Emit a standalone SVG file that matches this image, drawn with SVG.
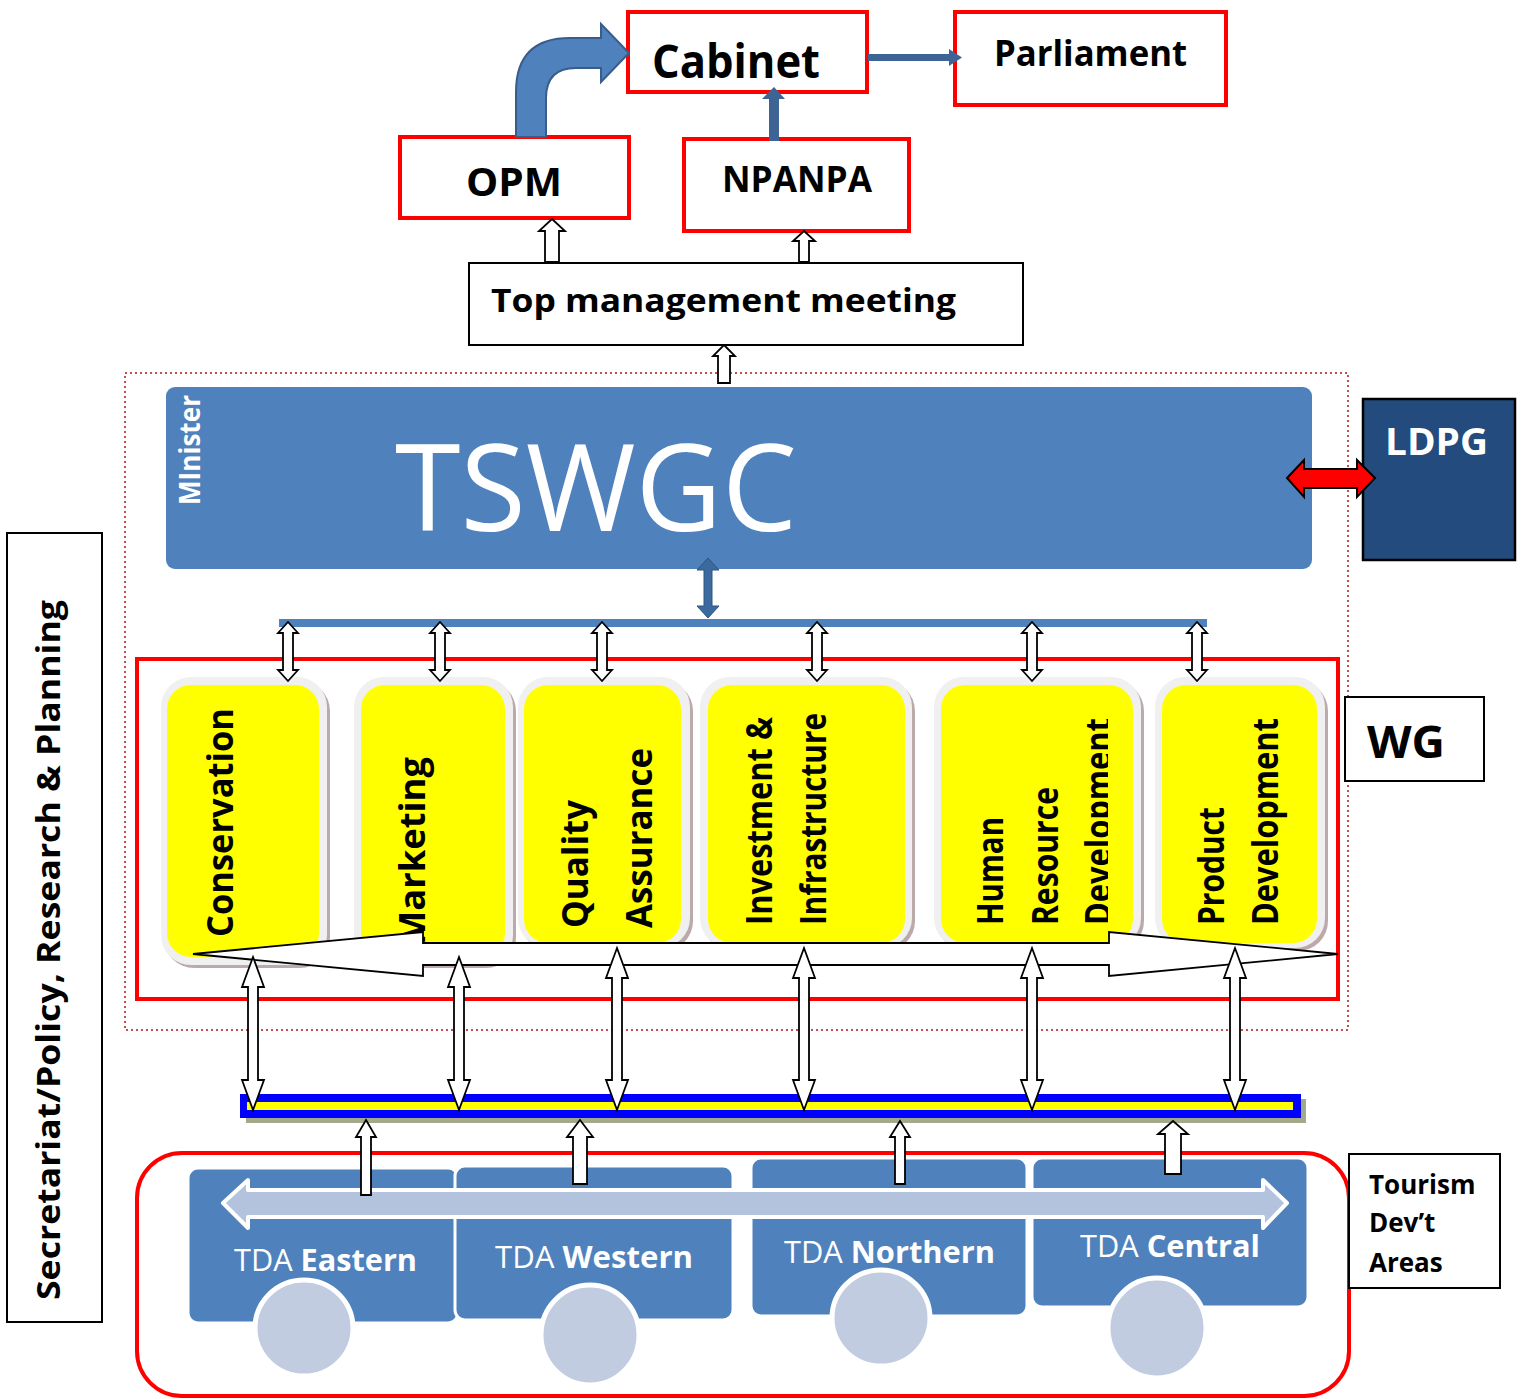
<svg xmlns="http://www.w3.org/2000/svg" xmlns:xlink="http://www.w3.org/1999/xlink" width="1528" height="1399" viewBox="0 0 1528 1399">
<style>
.rbox{fill:#fff;stroke:#ff0000;stroke-width:4}
.kbox{fill:#fff;stroke:#000;stroke-width:2}
.bt{font-family:"Open Sans","Liberation Sans",sans-serif;font-weight:bold;fill:#000}
.wt{font-family:"Open Sans","Liberation Sans",sans-serif;fill:#fff}
.yt{font-family:"Open Sans","Liberation Sans",sans-serif;font-weight:bold;font-size:35px;fill:#000}
.hol{fill:#fff;stroke:#000;stroke-width:1.8}
.frame{fill:#f0f0f0}
.shadow{fill:#bcaaaa}
.yel{fill:#ffff00}
.seg{fill:#4f81bd;stroke:#fff;stroke-width:3}
.wheel{fill:#c1cce1;stroke:#fff;stroke-width:5}
.tda{font-family:"Open Sans","Liberation Sans",sans-serif;font-size:31px;fill:#fff}
</style>
<defs>
<path id="dblS" d="M0,0 L10,11 L5,11 L5,48 L10,48 L0,59 L-10,48 L-5,48 L-5,11 L-10,11 Z"/>
<path id="dblA" d="M0,0 L11,30 L5,30 L5,123 L11,123 L0,153 L-11,123 L-5,123 L-5,30 L-11,30 Z"/>
<path id="dblB" d="M0,0 L11,30 L5,30 L5,132 L11,132 L0,162 L-11,132 L-5,132 L-5,30 L-11,30 Z"/>
<clipPath id="clipHRD"><rect x="900" y="650" width="208" height="320"/></clipPath>
</defs>
<rect width="1528" height="1399" fill="#fff"/>

<rect id="dotted-frame" x="125" y="373" width="1223" height="657" fill="none" stroke="#c0504d" stroke-width="2" stroke-dasharray="2,3"/>

<g id="node-cabinet">
<rect class="rbox" x="628" y="12" width="239" height="80"/>
<text class="bt" x="652" y="78" font-size="46" textLength="168" lengthAdjust="spacingAndGlyphs">Cabinet</text>
</g>
<g id="node-parliament">
<rect class="rbox" x="955" y="12" width="271" height="93"/>
<text class="bt" x="994" y="66" font-size="35" textLength="193" lengthAdjust="spacingAndGlyphs">Parliament</text>
</g>
<g id="node-opm">
<rect class="rbox" x="400" y="137" width="229" height="81"/>
<text class="bt" x="466" y="196" font-size="40" textLength="96" lengthAdjust="spacingAndGlyphs">OPM</text>
</g>
<g id="node-npanpa">
<rect class="rbox" x="684" y="139" width="225" height="92"/>
<text class="bt" x="722" y="192" font-size="35" textLength="150" lengthAdjust="spacingAndGlyphs">NPANPA</text>
</g>
<g id="node-topmgmt">
<rect class="kbox" x="469" y="263" width="554" height="82"/>
<text class="bt" x="491" y="312" font-size="33" textLength="465" lengthAdjust="spacingAndGlyphs">Top management meeting</text>
</g>

<g id="node-tswgc">
<rect x="166" y="387" width="1146" height="182" rx="9" fill="#4f81bd"/>
<text class="wt" transform="translate(200,505) rotate(-90)" font-size="29" font-weight="bold" textLength="110" lengthAdjust="spacingAndGlyphs">MInister</text>
<text class="wt" x="395" y="531" font-size="120" textLength="402" lengthAdjust="spacingAndGlyphs">TSWGC</text>
</g>
<g id="node-ldpg">
<rect x="1363" y="399" width="152" height="161" fill="#234b7e" stroke="#000" stroke-width="2.5"/>
<text class="wt" x="1385" y="455" font-size="38" font-weight="bold" textLength="103" lengthAdjust="spacingAndGlyphs">LDPG</text>
</g>

<g id="node-wg-frame">
<rect x="137" y="659" width="1201" height="340" fill="none" stroke="#ff0000" stroke-width="4"/>
</g>
<g id="node-wg-label">
<rect class="kbox" x="1345" y="697" width="139" height="84" stroke-width="1.5"/>
<text class="bt" x="1367" y="758" font-size="44" textLength="78" lengthAdjust="spacingAndGlyphs">WG</text>
</g>

<g id="node-conservation">
<rect class="shadow" x="164" y="681" width="166" height="287" rx="30"/>
<rect class="frame" x="161" y="677" width="166" height="288" rx="30"/>
<rect class="yel" x="167" y="685" width="152" height="272" rx="24"/>
<text class="yt" transform="translate(233,937) rotate(-90)" textLength="229" lengthAdjust="spacingAndGlyphs">Conservation</text>
</g>
<g id="node-marketing">
<rect class="shadow" x="357" y="681" width="159" height="287" rx="30"/>
<rect class="frame" x="354" y="677" width="159" height="288" rx="30"/>
<rect class="yel" x="361" y="685" width="144" height="272" rx="24"/>
<text class="yt" transform="translate(425,945) rotate(-90)" textLength="188" lengthAdjust="spacingAndGlyphs">Marketing</text>
</g>
<g id="node-quality">
<rect class="shadow" x="521" y="681" width="172" height="270" rx="30"/>
<rect class="frame" x="518" y="677" width="172" height="271" rx="30"/>
<rect class="yel" x="524" y="685" width="157" height="258" rx="24"/>
<text class="yt" transform="translate(588,928) rotate(-90)" textLength="128" lengthAdjust="spacingAndGlyphs">Quality</text>
<text class="yt" transform="translate(652,928) rotate(-90)" textLength="180" lengthAdjust="spacingAndGlyphs">Assurance</text>
</g>
<g id="node-investment">
<rect class="shadow" x="703" y="681" width="212" height="270" rx="30"/>
<rect class="frame" x="700" y="677" width="212" height="271" rx="30"/>
<rect class="yel" x="708" y="685" width="197" height="258" rx="24"/>
<text class="yt" transform="translate(772,925) rotate(-90)" textLength="208" lengthAdjust="spacingAndGlyphs">Investment &amp;</text>
<text class="yt" transform="translate(826,925) rotate(-90)" textLength="212" lengthAdjust="spacingAndGlyphs">Infrastructure</text>
</g>
<g id="node-hrd">
<rect class="shadow" x="937" y="681" width="207" height="270" rx="30"/>
<rect class="frame" x="934" y="677" width="207" height="271" rx="30"/>
<rect class="yel" x="941" y="685" width="192" height="258" rx="24"/>
<text class="yt" transform="translate(1003,925) rotate(-90)" textLength="108" lengthAdjust="spacingAndGlyphs">Human</text>
<text class="yt" transform="translate(1058,925) rotate(-90)" textLength="138" lengthAdjust="spacingAndGlyphs">Resource</text>
<g clip-path="url(#clipHRD)"><text class="yt" transform="translate(1111,925) rotate(-90)" textLength="207" lengthAdjust="spacingAndGlyphs">Development</text></g>
</g>
<g id="node-product">
<rect class="shadow" x="1158" y="681" width="170" height="270" rx="30"/>
<rect class="frame" x="1155" y="677" width="170" height="271" rx="30"/>
<rect class="yel" x="1162" y="685" width="155" height="258" rx="24"/>
<text class="yt" transform="translate(1224,925) rotate(-90)" textLength="118" lengthAdjust="spacingAndGlyphs">Product</text>
<text class="yt" transform="translate(1278,925) rotate(-90)" textLength="207" lengthAdjust="spacingAndGlyphs">Development</text>
</g>

<g id="node-bar">
<rect x="246" y="1099" width="1060" height="24" fill="#a4a98c"/>
<rect x="240" y="1094" width="1061" height="24" fill="#0000ff"/>
<rect x="247" y="1102" width="1046" height="8" fill="#ffff00"/>
</g>

<g id="node-bus">
<rect x="137" y="1153" width="1212" height="243" rx="45" fill="#fff" stroke="#ff0000" stroke-width="4"/>
<rect class="seg" x="188" y="1168" width="270" height="155" rx="10"/>
<rect class="seg" x="455" y="1166" width="278" height="154" rx="10"/>
<rect class="seg" x="751" y="1158" width="276" height="158" rx="10"/>
<rect class="seg" x="1032" y="1158" width="276" height="149" rx="10"/>
<path d="M223,1203 L248,1180 L248,1190 L1263,1190 L1263,1180 L1287,1203 L1263,1228 L1263,1217 L248,1217 L248,1228 Z" fill="#b3c3de" stroke="#fff" stroke-width="4" stroke-linejoin="round"/>
<ellipse class="wheel" cx="304" cy="1328" rx="49" ry="48"/>
<ellipse class="wheel" cx="590" cy="1335" rx="49" ry="50"/>
<ellipse class="wheel" cx="881" cy="1318" rx="49" ry="48"/>
<ellipse class="wheel" cx="1157" cy="1328" rx="49" ry="50"/>
<text class="tda" x="234" y="1271" textLength="183" lengthAdjust="spacingAndGlyphs">TDA <tspan font-weight="bold">Eastern</tspan></text>
<text class="tda" x="495" y="1268" textLength="198" lengthAdjust="spacingAndGlyphs">TDA <tspan font-weight="bold">Western</tspan></text>
<text class="tda" x="784" y="1263" textLength="211" lengthAdjust="spacingAndGlyphs">TDA <tspan font-weight="bold">Northern</tspan></text>
<text class="tda" x="1080" y="1257" textLength="180" lengthAdjust="spacingAndGlyphs">TDA <tspan font-weight="bold">Central</tspan></text>
</g>

<g id="node-tourism">
<rect class="kbox" x="1349" y="1154" width="151" height="134" stroke-width="1.5"/>
<text class="bt" font-size="26"><tspan x="1369" y="1194">Tourism</tspan><tspan x="1369" y="1232">Dev’t</tspan><tspan x="1369" y="1272">Areas</tspan></text>
</g>

<g id="node-secretariat">
<rect class="kbox" x="7" y="533" width="95" height="789"/>
<text class="bt" transform="translate(60,1300) rotate(-90)" font-size="33" textLength="700" lengthAdjust="spacingAndGlyphs">Secretariat/Policy, Research &amp; Planning</text>
</g>

<g id="connectors">
<path d="M516,137 L516,92 Q516,38 570,38 L601,38 L601,24 L629,53 L601,82 L601,68 L576,68 Q546,68 546,98 L546,137 Z" fill="#4f81bd" stroke="#385d8a" stroke-width="2"/>
<rect x="769" y="98" width="10" height="43" fill="#3d6494"/>
<path d="M762,99 L774,87 L785,99 Z" fill="#3d6494"/>
<rect x="868" y="54" width="82" height="7" fill="#3d6494"/>
<path d="M949,49 L962,57.5 L949,66 Z" fill="#3d6494"/>
<path class="hol" d="M552,219 L565,231 L559,231 L559,262 L545,262 L545,231 L539,231 Z"/>
<path class="hol" d="M804,231 L815,241 L809,241 L809,262 L799,262 L799,241 L793,241 Z"/>
<path class="hol" d="M724,345 L735,356 L730,356 L730,383 L718,383 L718,356 L713,356 Z"/>
<path d="M1287,478 L1304,460 L1304,469 L1357,469 L1357,460 L1375,478 L1357,497 L1357,488 L1304,488 L1304,497 Z" fill="#ff0000" stroke="#000" stroke-width="2"/>
<path d="M708,558 L719,570 L712,570 L712,606 L719,606 L708,618 L697,606 L704,606 L704,570 L697,570 Z" fill="#3d6a9e" stroke="#2e5584" stroke-width="1"/>
<rect x="279" y="619" width="928" height="8" fill="#4f81bd"/>
<use href="#dblS" class="hol" x="288" y="622"/>
<use href="#dblS" class="hol" x="440" y="622"/>
<use href="#dblS" class="hol" x="602" y="622"/>
<use href="#dblS" class="hol" x="817" y="622"/>
<use href="#dblS" class="hol" x="1032" y="622"/>
<use href="#dblS" class="hol" x="1197" y="622"/>
<path class="hol" d="M193,954 L423,932 L423,943 L1109,943 L1109,932 L1338,954 L1109,976 L1109,965 L423,965 L423,976 Z"/>
<use href="#dblA" class="hol" x="253" y="957"/>
<use href="#dblA" class="hol" x="459" y="957"/>
<use href="#dblB" class="hol" x="617" y="948"/>
<use href="#dblB" class="hol" x="804" y="948"/>
<use href="#dblB" class="hol" x="1032" y="948"/>
<use href="#dblB" class="hol" x="1235" y="948"/>
<path class="hol" d="M366,1120 L376,1137 L371,1137 L371,1195 L361,1195 L361,1137 L356,1137 Z"/>
<path class="hol" d="M580,1120 L593,1137 L587,1137 L587,1184 L573,1184 L573,1137 L567,1137 Z"/>
<path class="hol" d="M900,1121 L910,1137 L905,1137 L905,1184 L895,1184 L895,1137 L890,1137 Z"/>
<path class="hol" d="M1173,1121 L1188,1134 L1181,1134 L1181,1174 L1165,1174 L1165,1134 L1158,1134 Z"/>
</g>
</svg>
